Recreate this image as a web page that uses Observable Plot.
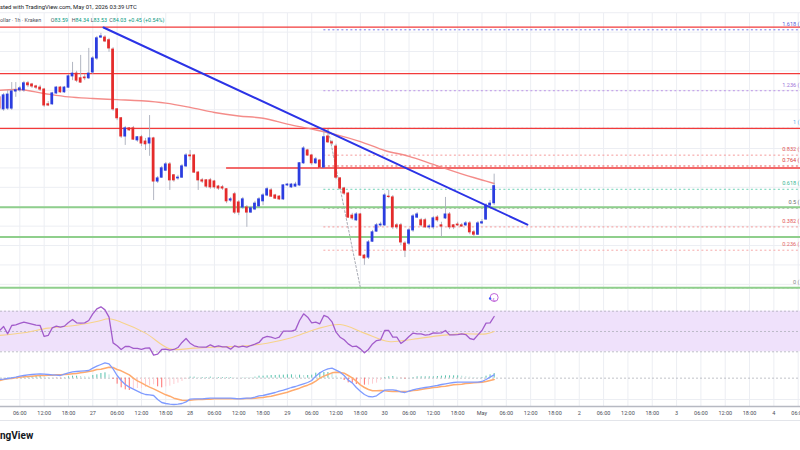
<!DOCTYPE html>
<html><head><meta charset="utf-8">
<script src="https://cdn.jsdelivr.net/npm/d3@7"></script>
<script src="https://cdn.jsdelivr.net/npm/@observablehq/plot@0.6"></script>
<style>
html,body{margin:0;padding:0;background:#fff;overflow:hidden}
#wrap{position:relative;width:800px;height:450px;overflow:hidden;font-family:Roboto,"Liberation Sans",sans-serif;background:#fff}
.pane{position:absolute;left:0;width:800px;overflow:hidden}
</style></head><body><div id="wrap"></div>
<script>
// ---------- data ----------
const T0 = Date.UTC(2026, 3, 27, 0, 0); // Apr 27 00:00 UTC
const HOUR = 3600e3;
const firstHour = -23; // first candle: Apr 26 01:00 UTC

const open = [
 86.32,86.01,86.03,86.03,86.47,86.50,86.50,86.68,86.65,86.60,
 86.57,86.52,86.14,86.14,86.42,86.57,86.45,86.57,86.86,86.93,
 86.81,86.83,86.81,86.96,87.32,87.86,87.86,87.79,87.55,86.01,
 85.78,85.31,85.52,85.52,85.21,85.29,85.18,85.13,85.26,84.15,
 84.25,84.43,84.59,84.31,84.23,84.25,84.54,84.82,84.82,84.38,
 84.18,84.18,84.18,84.15,84.02,84.00,83.95,83.66,83.82,83.61,
 83.48,83.48,83.35,83.43,83.51,83.64,83.79,83.92,83.79,83.76,
 83.69,84.05,84.00,84.02,84.05,84.62,84.95,84.82,84.62,84.69,
 84.51,85.31,85.16,85.05,84.23,83.97,83.84,83.27,83.15,83.30,
 82.24,82.19,82.60,82.86,83.02,83.02,83.76,83.74,83.02,83.02,
 82.55,82.55,82.89,83.22,83.15,83.15,82.97,82.97,83.22,83.02,
 83.20,83.30,83.02,83.04,83.02,83.02,83.07,82.84,82.78,83.07,
 83.17,83.53,83.59];
const close = [
 86.03,86.37,86.39,86.47,86.50,86.55,86.68,86.63,86.60,86.57,
 86.52,86.11,86.11,86.42,86.57,86.45,86.57,86.86,86.93,86.75,
 86.70,86.81,86.93,87.32,87.84,87.89,87.76,87.58,86.01,85.78,
 85.31,85.52,85.47,85.23,85.29,85.13,85.11,85.26,84.15,84.23,
 84.49,84.59,84.18,84.18,84.25,84.54,84.82,84.80,84.38,84.18,
 84.15,84.02,84.00,84.00,83.97,83.97,83.64,83.69,83.35,83.35,
 83.69,83.35,83.46,83.58,83.69,83.79,83.95,83.76,83.71,83.69,
 84.05,84.07,84.07,84.07,84.62,85.00,84.82,84.62,84.72,84.51,
 85.29,85.16,85.13,84.25,83.97,83.84,83.22,83.20,83.30,82.24,
 82.17,82.58,82.84,83.02,83.04,83.79,83.75,82.97,82.97,82.58,
 82.37,82.89,83.25,83.30,83.02,82.97,82.99,83.20,83.15,82.99,
 83.30,82.97,82.97,83.02,82.99,83.07,82.84,82.78,83.07,83.10,
 83.53,83.58,84.03];
const high = [
 86.37,86.42,86.50,86.70,86.70,86.60,86.73,86.73,86.68,86.63,
 86.63,86.55,86.21,86.45,86.60,86.60,86.60,86.91,87.22,86.99,
 87.40,86.91,87.58,87.37,87.89,87.97,87.91,87.84,87.60,86.03,
 85.80,85.57,85.54,85.57,85.31,85.34,85.26,85.85,85.29,84.28,
 84.54,84.64,84.64,84.33,84.31,84.59,84.87,84.95,84.85,84.41,
 84.23,84.20,84.23,84.18,84.05,84.05,83.97,83.74,83.87,83.66,
 83.74,83.53,83.51,83.64,83.74,83.84,84.00,83.97,83.82,83.79,
 84.07,84.10,84.10,84.13,84.64,85.05,84.98,84.85,84.77,84.72,
 85.44,85.49,85.21,85.11,84.25,84.00,83.87,83.33,83.35,83.33,
 82.27,82.63,82.89,83.07,83.10,83.84,83.92,83.79,83.07,83.07,
 82.60,82.94,83.30,83.35,83.20,83.20,83.04,83.25,83.27,83.10,
 83.74,83.35,83.04,83.10,83.07,83.12,83.12,82.89,83.12,83.17,
 83.58,83.66,84.34];
const low = [
 85.98,85.96,85.98,85.98,86.32,86.45,86.45,86.57,86.55,86.52,
 86.47,86.06,86.08,86.11,86.39,86.42,86.42,86.55,86.75,86.70,
 86.68,86.75,86.78,86.91,87.27,87.84,87.73,87.48,85.96,85.72,
 85.26,85.08,85.44,85.21,85.16,85.05,84.95,84.80,83.66,84.10,
 84.23,84.41,83.92,84.13,84.18,84.23,84.51,84.69,84.36,83.92,
 84.10,83.97,83.95,83.95,83.92,83.92,83.58,83.61,83.30,83.27,
 83.43,82.97,83.33,83.40,83.48,83.53,83.76,83.74,83.69,83.66,
 83.66,84.02,83.97,84.00,84.02,84.59,84.80,84.56,84.59,84.46,
 84.49,85.13,85.08,84.20,83.92,83.79,83.20,83.15,83.12,82.22,
 81.99,82.14,82.58,82.84,82.97,82.99,83.71,82.91,82.91,82.50,
 82.19,82.50,82.84,83.20,82.97,82.94,82.91,82.91,83.10,82.71,
 83.17,82.91,82.91,82.99,82.97,82.99,82.78,82.73,82.76,83.04,
 83.15,83.51,83.53];

// moving average (read every 6 h)
const maHours  = [-23,-18,-12,-6,0,6,12,18,24,30,36,42,48,54,60,66,72,78,84,90,96,99];
const maValues = [86.50,86.52,86.42,86.33,86.29,86.26,86.23,86.17,86.06,85.93,85.84,85.78,85.63,85.50,85.36,85.18,84.95,84.80,84.59,84.38,84.19,84.10];

// drawn lines
const trendHours = [2.64, 107.2];
const trendPrices = [88.12, 83.04];
const redLevels = [88.13, 86.93, 85.52, 84.50];
const redStartHours = [null, null, null, 33];
const greenLevels = [83.49, 82.72, 81.41];
const fibHigh = 85.52, fibLow = 81.41;
const fibHighHour = 58, fibLowHour = 66, fibStartHour = 57;
const fibRatios = [1.618, 1.236, 1, 0.832, 0.764, 0.618, 0.5, 0.382, 0.236, 0];
const fibLineColors  = ["#7b7be6","#bb94e6","#6fb7f2","#f49a9a","#e85a5a","#6fd3b6","#9a9a9a","#f49a9a","#f6a9a9","#9a9a9a"];
const fibLabelColors = ["#5c5cd6","#a074d8","#5aaeea","#e25555","#d83c3c","#3cb896","#6f6f6f","#e25555","#e46a6a","#8a8a8a"];
const priceGrid = [81.5,82,82.5,83,83.5,84,84.5,85,85.5,86,86.5,87,87.5,88,88.5];

// RSI (per candle) and its moving average
const rsi = [
 51.0,54.9,47.7,55.9,56.6,57.9,59.2,58.2,57.2,56.2,
 55.9,45.1,46.1,53.6,55.3,54.3,55.3,58.9,61.8,58.5,
 58.2,58.5,60.8,67.4,72.3,74.3,71.3,64.1,38.8,35.9,
 32.3,35.2,35.2,33.3,33.3,32.3,33.6,33.9,26.7,27.7,
 32.3,32.6,31.6,32.3,34.2,39.2,43.1,38.5,35.9,34.9,
 34.6,34.6,36.9,34.9,35.9,34.9,34.9,32.6,35.9,34.6,
 35.6,34.6,36.2,37.5,39.2,43.8,45.1,44.4,43.1,44.4,
 50.3,50.3,50.3,51.6,60.8,67.4,64.1,58.5,59.2,57.6,
 65.8,64.1,59.5,49.3,44.4,41.8,37.8,35.2,35.6,32.9,
 29.0,32.3,37.8,41.1,41.8,51.0,51.0,44.4,44.4,38.2,
 41.1,45.1,48.4,47.7,47.7,46.4,47.0,48.7,48.4,48.7,
 51.0,46.7,46.7,47.0,47.7,47.0,43.1,42.1,46.7,51.0,
 58.2,58.5,64.8];
const rsiMaHours  = [-23,-17,-11,-5,1,4,7,13,19,25,31,37,43,49,55,61,67,73,79,85,91,97,99];
const rsiMaValues = [46.1,48.7,53.3,55.6,59.9,62.5,59.2,48.4,32.9,33.6,34.9,35.6,38.5,43.8,52.3,56.9,48.4,40.1,42.4,45.7,47.7,47.7,50.0];
const rsiBands = [70, 50, 30];

// MACD (per candle)
const macd = [
 -0.04,-0.03,-0.01,0.01,0.03,0.06,0.08,0.10,0.11,0.12,
 0.13,0.12,0.11,0.10,0.09,0.08,0.12,0.16,0.19,0.20,
 0.21,0.22,0.23,0.30,0.36,0.41,0.46,0.43,0.28,0.08,
 -0.07,-0.19,-0.27,-0.33,-0.39,-0.45,-0.49,-0.50,-0.52,-0.64,
 -0.73,-0.76,-0.78,-0.79,-0.78,-0.76,-0.71,-0.63,-0.62,-0.62,
 -0.62,-0.61,-0.60,-0.60,-0.60,-0.60,-0.60,-0.60,-0.61,-0.62,
 -0.61,-0.60,-0.60,-0.57,-0.53,-0.52,-0.49,-0.46,-0.43,-0.39,
 -0.36,-0.32,-0.28,-0.25,-0.21,-0.17,-0.13,-0.07,0.06,0.16,
 0.23,0.28,0.30,0.24,0.18,0.08,-0.06,-0.14,-0.28,-0.39,
 -0.49,-0.55,-0.56,-0.53,-0.44,-0.36,-0.35,-0.35,-0.37,-0.41,
 -0.43,-0.39,-0.35,-0.32,-0.30,-0.28,-0.26,-0.24,-0.22,-0.19,
 -0.17,-0.15,-0.13,-0.12,-0.12,-0.12,-0.12,-0.12,-0.12,-0.10,
 -0.04,0.03,0.10];
const signal = [
 -0.07,-0.04,-0.02,-0.01,0.01,0.03,0.04,0.05,0.06,0.07,
 0.08,0.08,0.09,0.09,0.10,0.10,0.11,0.12,0.13,0.14,
 0.16,0.18,0.20,0.22,0.26,0.27,0.30,0.33,0.32,0.26,
 0.22,0.16,0.10,0.00,-0.08,-0.14,-0.21,-0.27,-0.32,-0.38,
 -0.44,-0.50,-0.54,-0.60,-0.63,-0.66,-0.67,-0.66,-0.65,-0.64,
 -0.64,-0.63,-0.63,-0.62,-0.62,-0.62,-0.62,-0.62,-0.62,-0.62,
 -0.62,-0.61,-0.61,-0.60,-0.59,-0.58,-0.56,-0.54,-0.51,-0.48,
 -0.45,-0.42,-0.38,-0.34,-0.30,-0.25,-0.21,-0.16,-0.09,0.00,
 0.06,0.11,0.16,0.18,0.17,0.15,0.08,0.01,-0.09,-0.20,
 -0.28,-0.34,-0.38,-0.38,-0.37,-0.38,-0.39,-0.40,-0.40,-0.40,
 -0.40,-0.39,-0.37,-0.36,-0.34,-0.32,-0.30,-0.28,-0.27,-0.25,
 -0.24,-0.22,-0.20,-0.19,-0.18,-0.16,-0.15,-0.14,-0.13,-0.12,
 -0.10,-0.07,-0.04];
const macdGrid = [-0.64];

// time axis: every 6 h from Apr 26 06:00
const tickStartHour = -18;
const tickLabels = ["06:00","12:00","18:00","27","06:00","12:00","18:00","28","06:00","12:00","18:00","29",
 "06:00","12:00","18:00","30","06:00","12:00","18:00","May","06:00","12:00","18:00","2",
 "06:00","12:00","18:00","3","06:00","12:00","18:00","4","06:00"];

// header texts
const headerLine1 = "sted with TradingView.com, May 01, 2026 03:39 UTC";
const symbolText = "ollar · 1h · Kraken";
const logoText = "ngView";

// ---------- build ----------
const at = h => new Date(T0 + h * HOUR);
const xDomain = [at(-22.77), at(174.57)];
const candles = close.map((c, i) => ({t: at(firstHour + i), open: open[i], high: high[i], low: low[i], close: c}));
const UP = "#2b3de0", DOWN = "#e52b2b";
const tickDates = tickLabels.map((_, i) => at(tickStartHour + 6 * i));
const labelOf = new Map(tickDates.map((d, i) => [+d, tickLabels[i]]));
const GRID = "#eceef3";
const fibs = fibRatios.map((r, i) => ({r, p: fibLow + r * (fibHigh - fibLow), line: fibLineColors[i], lab: fibLabelColors[i]}));
const reds = redLevels.map((p, i) => ({p, x1: redStartHours[i] == null ? xDomain[0] : at(redStartHours[i]), x2: xDomain[1]}));
const ma = maHours.map((h, i) => ({t: at(h), v: maValues[i]}));
const trend = trendHours.map((h, i) => ({t: at(h), v: trendPrices[i]}));
const fibDiag = [{t: at(fibHighHour), v: fibHigh}, {t: at(fibLowHour), v: fibLow}];
const common = {width: 800, marginLeft: 0, marginRight: 0, color: {type: "identity"},
  style: {background: "transparent", fontFamily: "Roboto, 'Liberation Sans', sans-serif"}};

const wrap = document.getElementById("wrap");
function pane(el, top, h) {
  const d = document.createElement("div");
  d.className = "pane"; d.style.top = top + "px"; d.style.height = h + "px";
  d.appendChild(el); wrap.appendChild(d);
}

// main price pane
const mainPlot = Plot.plot({
  ...common, height: 292, marginTop: 13, marginBottom: 0,
  x: {type: "utc", domain: xDomain, axis: null},
  y: {domain: [81.29, 88.48], axis: null},
  marks: [
    Plot.ruleX(tickDates, {stroke: GRID, strokeWidth: 1}),
    Plot.ruleY(priceGrid, {stroke: GRID, strokeWidth: 1}),
    Plot.ruleY(fibs, {y: "p", x1: at(fibStartHour), x2: xDomain[1], stroke: "line", strokeWidth: 1, strokeDasharray: "2,2.5"}),
    Plot.line(fibDiag, {x: "t", y: "v", stroke: "#9ea2ab", strokeWidth: 0.9, strokeDasharray: "2,2"}),
    Plot.ruleY(greenLevels, {stroke: "#8fcf8c", strokeWidth: 2}),
    Plot.ruleY(reds, {y: "p", x1: "x1", x2: "x2", stroke: "#f23a3a", strokeWidth: 1.4}),
    Plot.line(ma, {x: "t", y: "v", stroke: "#f3807c", strokeWidth: 1.4, curve: "catmull-rom", strokeOpacity: 0.9}),
    Plot.ruleX(candles, {x: "t", y1: "low", y2: "high", stroke: "#a9aebb", strokeWidth: 0.9}),
    Plot.rect(candles, {x1: d => new Date(+d.t - 0.34 * HOUR), x2: d => new Date(+d.t + 0.34 * HOUR),
      y1: "open", y2: "close", fill: d => d.close >= d.open ? UP : DOWN, insetTop: -0.5, insetBottom: -0.5}),
    Plot.line(trend, {x: "t", y: "v", stroke: "#2b33e6", strokeWidth: 2}),
    Plot.text(fibs, {y: "p", text: d => `${d.r} (`, frameAnchor: "right", textAnchor: "end",
      dx: -1, dy: -6, fill: "lab", fontSize: 5.6})
  ]
});
pane(mainPlot, 0, 292);

// RSI pane
const rsiRows = rsi.map((v, i) => ({t: at(firstHour + i), v}));
const rsiMa = rsiMaHours.map((h, i) => ({t: at(h), v: rsiMaValues[i]}));
const rsiPlot = Plot.plot({
  ...common, height: 66, marginTop: 0, marginBottom: 0,
  x: {type: "utc", domain: xDomain, axis: null},
  y: {domain: [23.4, 88.42], axis: null},
  marks: [
    Plot.ruleX(tickDates, {stroke: GRID, strokeWidth: 1}),
    Plot.rect([{}], {x1: () => xDomain[0], x2: () => xDomain[1], y1: () => rsiBands[2], y2: () => rsiBands[0], fill: "#efe1fb"}),
    Plot.ruleY(rsiBands, {stroke: "#a6a9b2", strokeWidth: 0.7, strokeDasharray: "2,2"}),
    Plot.line(rsiMa, {x: "t", y: "v", stroke: "#f7d38a", strokeWidth: 1.1, curve: "catmull-rom"}),
    Plot.line(rsiRows, {x: "t", y: "v", stroke: "#a25ccb", strokeWidth: 1.3}),
    Plot.dot([candles[candles.length - 1].t], {x: d => d, frameAnchor: "top", dy: 5, r: 4, stroke: "#c266da", fill: "white", strokeWidth: 1}),
    Plot.text([candles[candles.length - 1].t], {x: d => d, frameAnchor: "top", dy: 5, text: () => "ϟ", fill: "#c266da", fontSize: 6, fontWeight: "bold"}),
    Plot.dot([candles[candles.length - 2].t], {x: d => d, frameAnchor: "top", dy: 6, r: 1.2, fill: "#3d5afe"})
  ]
});
pane(rsiPlot, 292, 66);

// MACD pane + time axis
const macdRows = macd.map((v, i) => ({t: at(firstHour + i), m: v, s: signal[i], h: +(v - signal[i]).toFixed(3)}));
macdRows.forEach((d, i) => {
  const prev = i ? macdRows[i - 1].h : d.h;
  d.col = d.h >= 0 ? (d.h >= prev ? "#58c2ae" : "#b6e2dc") : (d.h < prev ? "#ff6e6e" : "#ffcdd2");
});
const macdPlot = Plot.plot({
  ...common, height: 62, marginTop: 0, marginBottom: 14,
  x: {type: "utc", domain: xDomain},
  y: {domain: [-0.85, 0.59], axis: null},
  marks: [
    Plot.ruleX(tickDates, {stroke: GRID, strokeWidth: 1}),
    Plot.ruleY(macdGrid, {stroke: GRID, strokeWidth: 1}),
    Plot.ruleY([0], {stroke: "#a6a9b2", strokeWidth: 0.7, strokeDasharray: "2,2"}),
    Plot.ruleX(macdRows, {x: "t", y1: 0, y2: "h", stroke: "col", strokeWidth: 1}),
    Plot.line(macdRows, {x: "t", y: "s", stroke: "#ffab6e", strokeWidth: 1.5}),
    Plot.line(macdRows, {x: "t", y: "m", stroke: "#7f9bff", strokeWidth: 1.3}),
    Plot.frame({anchor: "bottom", stroke: "#b6b9c2", strokeWidth: 1.5}),
    Plot.axisX({ticks: tickDates, tickFormat: d => labelOf.get(+d), tickSize: 0, tickPadding: 4.5,
      fontSize: 5.5, fill: "#4a4d57", label: null, anchor: "bottom"})
  ]
});
pane(macdPlot, 358, 62);

// header, legend and logo overlay
const ov = d3.select(wrap).append("svg").attr("width", 800).attr("height", 450)
  .style("position", "absolute").style("left", 0).style("top", 0).style("pointer-events", "none")
  .style("font-family", "Roboto, 'Liberation Sans', sans-serif");
ov.append("line").attr("x1", 0).attr("x2", 800).attr("y1", 420.5).attr("y2", 420.5).attr("stroke", "#e3e5ea");
ov.append("text").attr("x", 0).attr("y", 9).attr("font-size", 5.9).attr("fill", "#131722").text(headerLine1);
const last = candles[candles.length - 1], prevClose = candles[candles.length - 2].close;
const chg = last.close - prevClose;
const g2 = ov.append("g").attr("font-size", 5.4);
g2.append("text").attr("x", 0).attr("y", 22).attr("fill", "#50535e").text(symbolText);
const GREEN = "#089981";
[["O", last.open, 50.7], ["H", last.high, 71.7], ["L", last.low, 90.7], ["C", last.close, 109.3]].forEach(([k, v, x]) => {
  const t = g2.append("text").attr("x", x).attr("y", 22);
  t.append("tspan").attr("fill", "#50535e").text(k);
  t.append("tspan").attr("fill", GREEN).text(v.toFixed(2));
});
g2.append("text").attr("x", 128.3).attr("y", 22).attr("fill", GREEN)
  .text(`${chg >= 0 ? "+" : ""}${chg.toFixed(2)} (${chg >= 0 ? "+" : ""}${(chg / prevClose * 100).toFixed(2)}%)`);
ov.append("text").attr("x", 0).attr("y", 439).attr("font-size", 10)
  .attr("font-weight", "bold").attr("fill", "#131722").text(logoText);
</script></body></html>
